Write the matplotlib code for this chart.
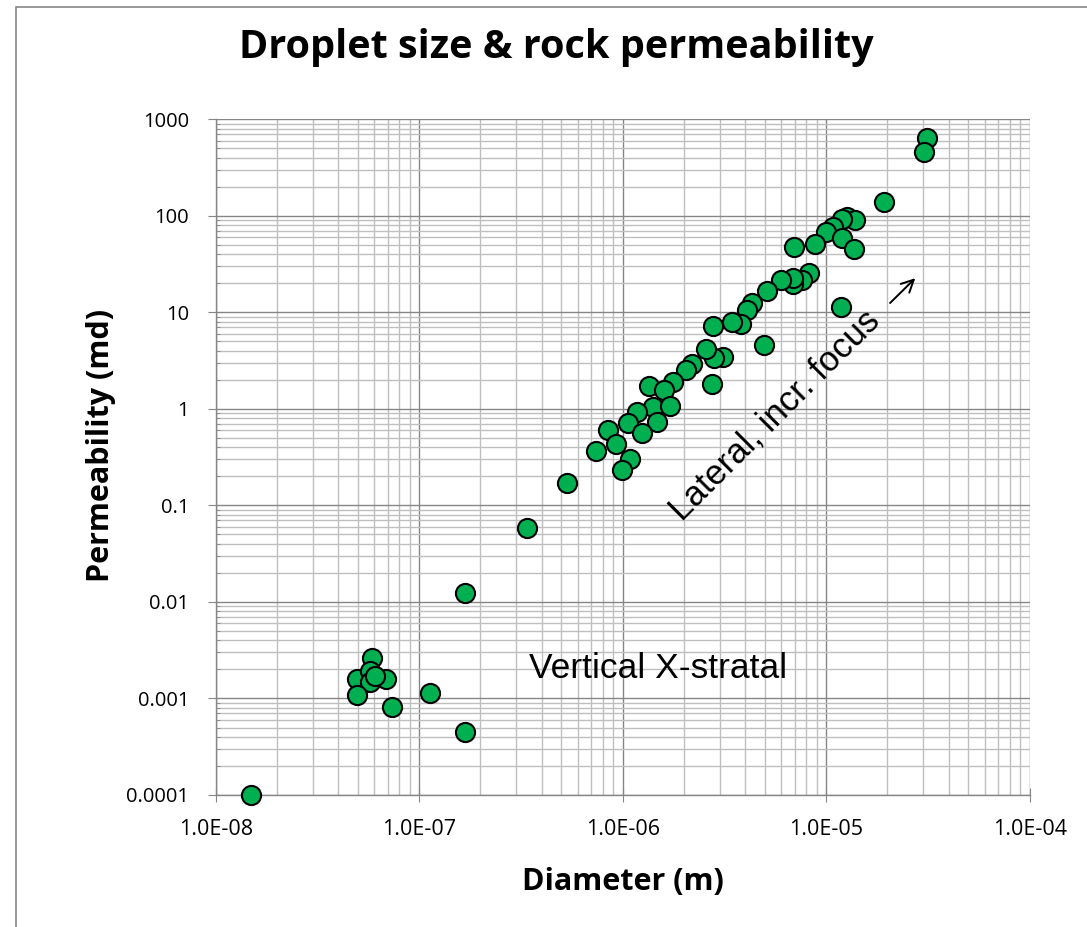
import numpy as np
import matplotlib
matplotlib.use("Agg")
from matplotlib import pyplot as plt
from matplotlib.patches import Rectangle
from matplotlib.ticker import LogLocator, NullFormatter, FixedLocator

# droplet diameter (m) and rock permeability (md)
diameter = [3.12e-5, 3.01e-5, 1.93e-5,
            1.26e-5, 1.38e-5, 1.19e-5, 1.08e-5, 1.0e-5, 1.2e-5, 1.37e-5, 8.78e-6, 6.97e-6,
            1.18e-5, 4.97e-6,
            8.23e-6, 7.57e-6, 6.84e-6, 6.9e-6, 5.98e-6, 5.1e-6, 4.33e-6, 4.06e-6,
            3.8e-6, 3.46e-6, 2.79e-6,
            3.12e-6, 2.82e-6, 2.56e-6, 2.74e-6,
            2.2e-6, 2.04e-6, 1.77e-6, 1.35e-6, 1.6e-6, 1.41e-6, 1.71e-6, 1.18e-6,
            1.47e-6, 1.06e-6, 1.25e-6, 8.5e-7,
            9.27e-7, 7.37e-7, 1.09e-6, 9.9e-7,
            5.3e-7, 3.37e-7,
            1.67e-7, 1.13e-7, 1.67e-7, 1.5e-8,
            5.85e-8, 4.93e-8, 6.85e-8, 5.74e-8, 5.76e-8, 6.1e-8, 4.93e-8, 7.33e-8]
permeability = [645, 462, 138,
                98, 90.6, 92.7, 77, 68, 58.5, 45.3, 51, 47.9,
                11.4, 4.58,
                25.4, 21.6, 19.5, 22.5, 21.6, 16.7, 12.4, 10.7,
                7.57, 8.0, 7.26,
                3.47, 3.33, 4.14, 1.79,
                2.89, 2.52, 1.91, 1.74, 1.57, 1.05, 1.08, 0.92,
                0.735, 0.718, 0.557, 0.60,
                0.43, 0.366, 0.30, 0.23,
                0.169, 0.059,
                0.0124, 0.00113, 0.000445, 0.0001,
                0.0026, 0.00161, 0.00161, 0.00193, 0.00149, 0.0017, 0.00108, 0.00082]

xticks = [1e-8, 1e-7, 1e-6, 1e-5, 1e-4]
xlabels = ["1.0E-08", "1.0E-07", "1.0E-06", "1.0E-05", "1.0E-04"]
yticks = [1e-4, 1e-3, 1e-2, 1e-1, 1, 10, 100, 1000]
ylabels = ["0.0001", "0.001", "0.01", "0.1", "1", "10", "100", "1000"]

fig = plt.figure(figsize=(10.87, 9.27), dpi=100)
# outer chart border
fig.patches.append(Rectangle((16 / 1087, -0.05), 1.2, (927 - 7) / 927 + 0.05,
                             transform=fig.transFigure, fill=False,
                             edgecolor="#868686", linewidth=1.2))

ax = fig.add_axes([0.1984, 0.1424, 0.7489, 0.7289])
ax.set_xscale("log")
ax.set_yscale("log")
ax.set_xlim(1e-8, 1e-4)
ax.set_ylim(1e-4, 1e3)

ax.xaxis.set_minor_locator(LogLocator(base=10, subs=np.arange(2, 10), numticks=20))
ax.yaxis.set_minor_locator(LogLocator(base=10, subs=np.arange(2, 10), numticks=20))
ax.xaxis.set_minor_formatter(NullFormatter())
ax.yaxis.set_minor_formatter(NullFormatter())
ax.xaxis.set_major_locator(FixedLocator(xticks))
ax.yaxis.set_major_locator(FixedLocator(yticks))
ax.set_xticklabels(xlabels, family="Open Sans", fontsize=15.5)
ax.set_yticklabels(ylabels, family="Open Sans", fontsize=14.5)

ax.grid(which="major", color="#868686", linewidth=1.0)
ax.grid(which="minor", color="#BFBFBF", linewidth=1.0)
ax.set_axisbelow(True)
for s in ["top", "right"]:
    ax.spines[s].set_visible(False)
for s in ["left", "bottom"]:
    ax.spines[s].set_color("#868686")
    ax.spines[s].set_linewidth(1.0)
ax.tick_params(axis="x", which="major", length=10, color="#868686", direction="inout", pad=12)
ax.tick_params(axis="y", which="major", length=6, color="#868686", direction="out", pad=13)
ax.tick_params(axis="x", which="minor", length=0)
ax.tick_params(axis="y", which="minor", length=3, color="#868686", direction="in")

ax.scatter(diameter, permeability, s=190, c="#00B050", edgecolors="black",
           linewidths=1.5, zorder=3, clip_on=False)

ax.text(1.5e-6, 0.00206, "Vertical X-stratal", family="Liberation Sans",
        fontsize=25.5, ha="center", va="center")
ax.text(5.6e-6, 0.86, "Lateral, incr. focus", family="Liberation Sans",
        fontsize=25, ha="center", va="center", rotation=45, rotation_mode="anchor")
ax.annotate("", xy=(2.74e-5, 22.6), xytext=(2.06e-5, 12.5),
            arrowprops=dict(arrowstyle="->", color="black", lw=1.4,
                            mutation_scale=22, shrinkA=0, shrinkB=0))

ax.set_xlabel("Diameter (m)", family="Open Sans", fontweight="bold", fontsize=22, labelpad=20)
ax.set_ylabel("Permeability (md)", family="Open Sans", fontweight="bold", fontsize=22, labelpad=10)
ax.yaxis.set_label_coords(-0.122, 0.518)
fig.text(0.512, 0.949, "Droplet size & rock permeability", family="Open Sans",
         fontweight="bold", fontsize=28.5, ha="center", va="center")

fig.savefig("out.png", dpi=100)
